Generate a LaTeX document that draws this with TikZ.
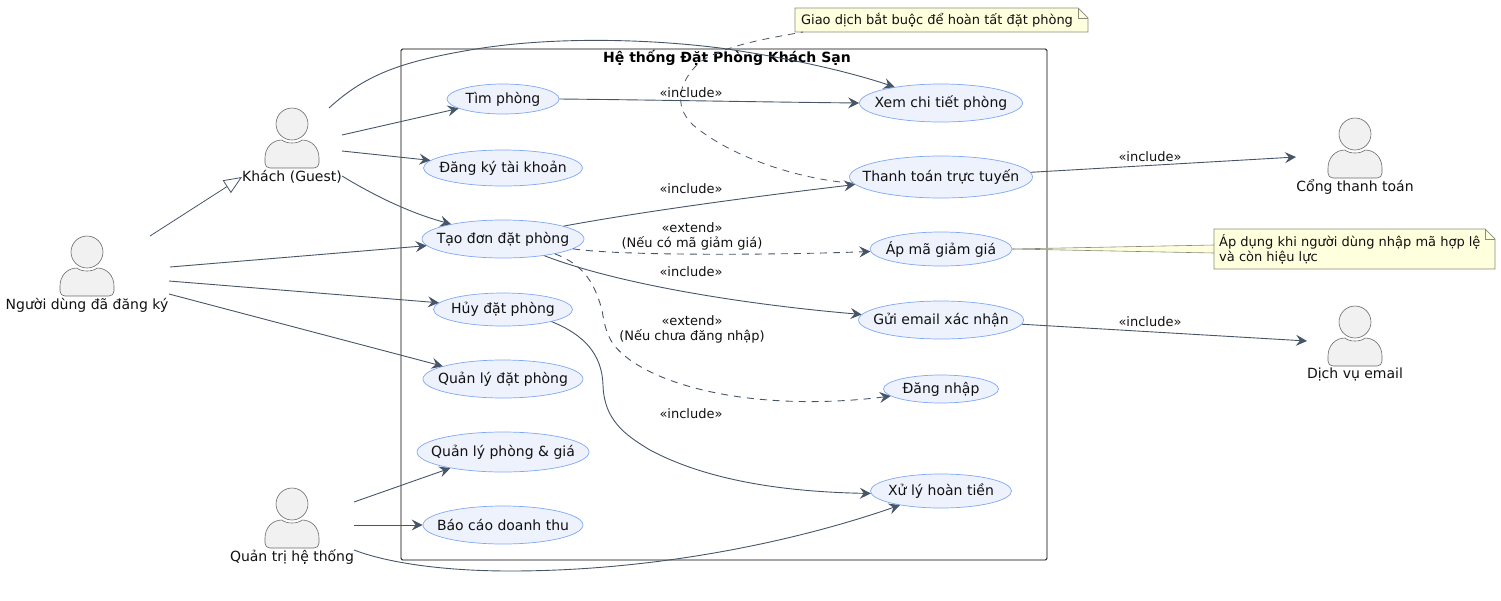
\documentclass[tikz,border=0pt]{standalone}
\usepackage{fontspec}
\setmainfont{DejaVu Sans}
\usetikzlibrary{shapes.geometric,arrows.meta,calc}
\definecolor{edgec}{HTML}{475569}
\definecolor{ucb}{HTML}{7FA8F5}
\definecolor{ucf}{HTML}{EEF2FD}
\definecolor{actf}{HTML}{F1F1F1}
\definecolor{actb}{HTML}{6A6A6A}
\definecolor{notef}{HTML}{FEFFDD}
\definecolor{noteb}{HTML}{8A8A7A}
\definecolor{txt}{HTML}{111111}
\tikzset{
  uc/.style={ellipse,draw=ucb,fill=ucf,line width=.7pt,inner sep=0pt},
  uct/.style={text=txt,font=\fontsize{14}{16}\selectfont,inner sep=0pt},
  rel/.style={draw=edgec,line width=.9pt,-{Stealth[length=11pt,width=11pt,inset=4pt]}},
  relnote/.style={draw=edgec,line width=.8pt,dash pattern=on 7pt off 6pt},
  reldash/.style={rel,dash pattern=on 7pt off 6pt},
  gen/.style={draw=edgec,line width=.8pt,-{Triangle[open,length=18pt,width=15pt,fill=white]}},
  lbl/.style={text=txt,font=\fontsize{13}{15}\selectfont,align=center,inner sep=0pt},
  actlbl/.style={text=txt,font=\fontsize{14}{16}\selectfont,inner sep=0pt},
  notet/.style={text=txt,font=\fontsize{13}{15.5}\selectfont,align=left,inner sep=0pt,draw=none},
  actorhead/.style={draw=actb,fill=actf,line width=.6pt},
}
\newcommand{\actorfig}[2]{%
  \begin{scope}[shift={(#1,#2)}]
    \draw[actorhead] (-22,44) .. controls (-25,44) and (-27,42) .. (-27,39)
      -- (-27,34) .. controls (-27,24) and (-20,16) .. (-10,16)
      .. controls (-6,20) and (6,20) .. (10,16)
      .. controls (20,16) and (27,24) .. (27,34)
      -- (27,39) .. controls (27,42) and (25,44) .. (22,44) -- cycle;
    \draw[actorhead] (0,0) circle[radius=16];
  \end{scope}}
\newcommand{\notefig}[4]{%
  \draw[draw=noteb,fill=notef,line width=.7pt] (#1,#2) -- (#3-10,#2) -- (#3,#2+10) -- (#3,#4) -- (#1,#4) -- cycle;
  \draw[draw=noteb,line width=.7pt] (#3-10,#2) -- (#3-10,#2+10) -- (#3,#2+10);}
\begin{document}
\begin{tikzpicture}[x=1pt,y=-1pt]
\useasboundingbox (0,0) rectangle (1501,600);
% system frame
\node[draw=black,line width=.8pt,rounded corners=1.5pt,minimum width=646pt,minimum height=511pt,inner sep=0pt] (sys) at (724,304.5) {};
\node[text=black,font=\fontsize{14}{16}\selectfont\bfseries,inner sep=0pt] (systitle) at (727,58) {Hệ thống Đặt Phòng Khách Sạn};
% use cases
\node[uc,minimum width=112pt,minimum height=30pt,label={[uct]center:Tìm phòng}] (tim) at (503,99) {};
\node[uc,minimum width=159pt,minimum height=36pt,label={[uct]center:Đăng ký tài khoản}] (dangky) at (503,168) {};
\node[uc,minimum width=162pt,minimum height=38pt,label={[uct]center:Tạo đơn đặt phòng}] (tao) at (503,239) {};
\node[uc,minimum width=139pt,minimum height=33pt,label={[uct]center:Hủy đặt phòng}] (huy) at (503,309.5) {};
\node[uc,minimum width=160pt,minimum height=38pt,label={[uct]center:Quản lý đặt phòng}] (qldat) at (503,379) {};
\node[uc,minimum width=172pt,minimum height=40pt,label={[uct]center:Quản lý phòng \& giá}] (qlphong) at (503,452) {};
\node[uc,minimum width=160pt,minimum height=38pt,label={[uct]center:Báo cáo doanh thu}] (baocao) at (503,525) {};
\node[uc,minimum width=163pt,minimum height=38pt,label={[uct]center:Xem chi tiết phòng}] (xem) at (941,103) {};
\node[uc,minimum width=183pt,minimum height=42pt,label={[uct]center:Thanh toán trực tuyến}] (thanh) at (941,177) {};
\node[uc,minimum width=142pt,minimum height=34pt,label={[uct]center:Áp mã giảm giá}] (apma) at (941,249) {};
\node[uc,minimum width=165pt,minimum height=38pt,label={[uct]center:Gửi email xác nhận}] (gui) at (941,320) {};
\node[uc,minimum width=115pt,minimum height=28pt,label={[uct]center:Đăng nhập}] (dangnhap) at (941,389) {};
\node[uc,minimum width=141pt,minimum height=34pt,label={[uct]center:Xử lý hoàn tiền}] (xuly) at (941,491) {};
% actors
\actorfig{292}{124}
\node[actlbl] (guest) at (292,177) {Khách (Guest)};
\actorfig{87}{252}
\node[actlbl] (user) at (87,305) {Người dùng đã đăng ký};
\actorfig{292}{504}
\node[actlbl] (admin) at (292,557) {Quản trị hệ thống};
\actorfig{1355}{134}
\node[actlbl] (cong) at (1355,187) {Cổng thanh toán};
\actorfig{1355}{322}
\node[actlbl] (email) at (1355,374) {Dịch vụ email};
% free connector ends at the actors
\coordinate (guestA) at (329,108);
\coordinate (guestB) at (342,135);
\coordinate (guestC) at (342,151);
\coordinate (guestD) at (342,176);
\coordinate (userA) at (150,236);
\coordinate (userB) at (170,267);
\coordinate (userC) at (169,281);
\coordinate (userD) at (169,294);
\coordinate (adminA) at (354,502);
\coordinate (adminB) at (354,525);
\coordinate (adminC) at (354,550);
\coordinate (congA) at (1296,157);
\coordinate (emailA) at (1307,341);
% notes
\notefig{795}{8}{1088}{32}
\node[notet] (notea) at (937,20) {Giao dịch bắt buộc để hoàn tất đặt phòng};
\coordinate (noteaend) at (803,32);
\draw[relnote] (thanh.184) .. controls (805,180) and (735,160) .. (693,125)
  .. controls (672,105) and (680,80) .. (700,62)
  .. controls (725,45) and (770,38) .. (noteaend);
% wedge from Ap ma to note
\coordinate (notebw) at (1214,249);
\fill[notef] (apma.east) -- ($(notebw)+(0,-4)$) -- ($(notebw)+(0,4)$) -- cycle;
\draw[noteb,line width=.6pt] (apma.east) -- ($(notebw)+(0,-4)$);
\draw[noteb,line width=.6pt] (apma.east) -- ($(notebw)+(0,4)$);
\notefig{1214}{229}{1495}{269}
\node[notet,anchor=west] (noteb) at (1219,249) {Áp dụng khi người dùng nhập mã hợp lệ\\và còn hiệu lực};
% connectors
\draw[gen] (userA) -- (guest.west);
\draw[rel] (userB) -- (tao.185.5);
\draw[rel] (userC) -- (huy.174);
\draw[rel] (userD) -- (qldat.168);
\draw[rel] (guestA) .. controls (365,75) and (400,62) .. (470,50)
  .. controls (545,37) and (640,38) .. (720,48)
  .. controls (790,58) and (850,72) .. (xem.161);
\draw[rel] (guestB) -- (tim.192);
\draw[rel] (guestC) -- (dangky.174);
\draw[rel] (guestD) .. controls (375,196) and (410,213) .. (tao.164);
\draw[rel] (adminA) -- (qlphong.197);
\draw[rel] (adminB) -- (baocao.west);
\draw[rel] (adminC) .. controls (385,562) and (440,571) .. (510,571)
  .. controls (660,571) and (800,540) .. (xuly.199);
\draw[rel] (tim.east) .. controls (660,100) and (760,102) .. (xem.west);
\draw[rel] (tao.12) .. controls (640,212) and (750,197) .. (thanh.185.5);
\draw[reldash] (tao.-8) .. controls (620,256) and (780,255) .. (apma.182.5);
\draw[rel] (tao.-22) .. controls (620,285) and (750,305) .. (gui.176);
\draw[reldash] (tao.-16) .. controls (585,265) and (595,285) .. (602,310)
  .. controls (606,335) and (610,345) .. (630,360)
  .. controls (680,395) and (780,410) .. (dangnhap.188);
\draw[rel] (huy.-14) .. controls (585,335) and (602,355) .. (603,385)
  .. controls (604,420) and (625,435) .. (650,450)
  .. controls (710,482) and (790,492) .. (xuly.182);
\draw[rel] (thanh.3) -- (congA);
\draw[rel] (gui.-3) -- (emailA);
% labels
\node[lbl] (l1) at (691,93) {«include»};
\node[lbl] (l2) at (691,189) {«include»};
\node[lbl] (l3) at (692,236) {«extend»\\(Nếu có mã giảm giá)};
\node[lbl] (l4) at (691,272) {«include»};
\node[lbl] (l5) at (692,329) {«extend»\\(Nếu chưa đăng nhập)};
\node[lbl] (l6) at (691,414) {«include»};
\node[lbl] (l7) at (1150,157) {«include»};
\node[lbl] (l8) at (1150,322) {«include»};
\end{tikzpicture}
\end{document}
